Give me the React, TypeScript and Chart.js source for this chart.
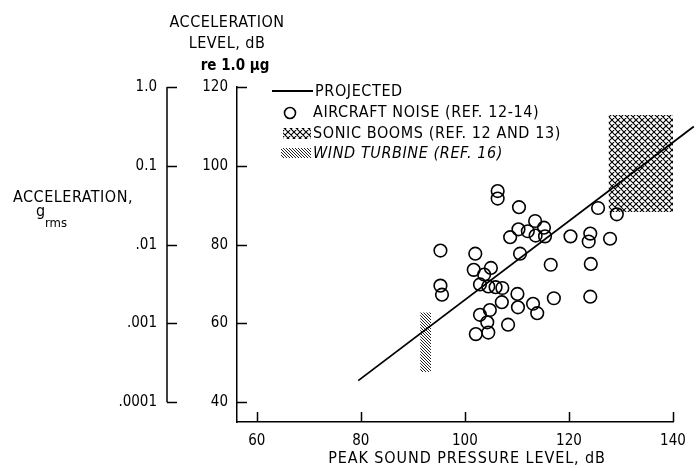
import React, { useEffect, useRef } from 'react';
import { Chart, registerables } from 'chart.js';

Chart.register(...registerables);

// ---- data ----
const aircraftX = [106.3, 106.3, 110.4, 113.5, 110.3, 112.1, 115.2, 108.7, 113.6, 115.4, 120.3, 124.1, 123.8, 125.6, 129.2, 127.9, 95.3, 102.0, 110.6, 116.5, 124.2, 101.7, 105.0, 103.7, 102.9, 104.5, 105.9, 107.2, 95.3, 95.6, 110.1, 107.1, 117.1, 124.1, 110.2, 113.1, 113.9, 104.8, 102.9, 104.3, 108.3, 102.1, 104.5];
const aircraftY = [93.6, 91.7, 89.5, 86.0, 83.9, 83.4, 84.3, 81.9, 82.3, 82.1, 82.1, 82.8, 80.8, 89.3, 87.7, 81.5, 78.5, 77.7, 77.7, 74.9, 75.1, 73.6, 74.1, 72.4, 69.9, 69.4, 69.2, 69.0, 69.6, 67.3, 67.5, 65.4, 66.4, 66.8, 64.1, 65.0, 62.6, 63.4, 62.2, 60.3, 59.7, 57.3, 57.7];
const projectedX = [79.5, 144];
const projectedY = [45.5, 110];
const sonicX = [127.6, 140];
const sonicY = [88.3, 112.9];
const windX = [91.4, 93.5];
const windY = [47.7, 62.8];

const xTicks = [60, 80, 100, 120, 140];
const yTicks = [40, 60, 80, 100, 120];
const accelLabels = ['.0001', '.001', '.01', '0.1', '1.0'];
const legendLabels = ['PROJECTED', 'AIRCRAFT NOISE (REF. 12-14)', 'SONIC BOOMS (REF. 12 AND 13)', 'WIND TURBINE (REF. 16)'];
const xTitle = 'PEAK SOUND PRESSURE LEVEL, dB';
const yTitle = ['ACCELERATION', 'LEVEL, dB', 're 1.0 \u00b5g'];
const accTitle = ['ACCELERATION,', 'g', 'rms'];

const FONT = '"Liberation Sans Narrow", "DejaVu Sans Condensed", "Liberation Sans", sans-serif';

function makeCross(ctx: CanvasRenderingContext2D) {
  const s = 6;
  const c = document.createElement('canvas');
  c.width = s; c.height = s;
  const g = c.getContext('2d')!;
  g.strokeStyle = '#000';
  g.lineWidth = 1.1;
  g.beginPath();
  for (const k of [-s, 0, s]) {
    g.moveTo(k, 0); g.lineTo(k + s, s);
    g.moveTo(k + s, 0); g.lineTo(k, s);
  }
  g.stroke();
  return ctx.createPattern(c, 'repeat')!;
}

function makeDiag(ctx: CanvasRenderingContext2D) {
  const s = 3;
  const c = document.createElement('canvas');
  c.width = s; c.height = s;
  const g = c.getContext('2d')!;
  g.strokeStyle = '#222';
  g.lineWidth = 1;
  g.beginPath();
  for (const k of [-s, 0, s]) {
    g.moveTo(k, 0); g.lineTo(k + s, s);
  }
  g.stroke();
  return ctx.createPattern(c, 'repeat')!;
}

export default function App() {
  const ref = useRef<HTMLCanvasElement | null>(null);

  useEffect(() => {
    document.body.style.margin = '0';
    const canvas = ref.current!;
    const ctx = canvas.getContext('2d')!;
    const cross = makeCross(ctx);
    const diag = makeDiag(ctx);

    const overlay = {
      id: 'overlay',
      afterDraw(chart: any) {
        const c = chart.ctx as any;
        const xs = chart.scales.x;
        const ys = chart.scales.y;
        const area = chart.chartArea;
        c.save();
        c.strokeStyle = '#000';
        c.fillStyle = '#000';
        c.lineWidth = 1.5;
        // inward ticks on y
        c.beginPath();
        for (const v of yTicks) {
          const py = Math.round(ys.getPixelForValue(v)) + 0.5;
          c.moveTo(area.left, py); c.lineTo(area.left + 10, py);
        }
        // inward ticks on x
        for (const v of xTicks) {
          const px = Math.round(xs.getPixelForValue(v)) + 0.5;
          c.moveTo(px, area.bottom); c.lineTo(px, area.bottom - 10);
        }
        // acceleration (g) axis
        const ax = 167;
        c.moveTo(ax, ys.getPixelForValue(yTicks[yTicks.length - 1]));
        c.lineTo(ax, ys.getPixelForValue(yTicks[0]));
        for (const v of yTicks) {
          const py = Math.round(ys.getPixelForValue(v)) + 0.5;
          c.moveTo(ax, py); c.lineTo(ax + 10, py);
        }
        c.stroke();

        // titles
        c.textBaseline = 'middle';
        c.textAlign = 'center';
        c.letterSpacing = '0.5px';
        c.font = `16px ${FONT}`;
        c.fillText(yTitle[0], 227, 23);
        c.fillText(yTitle[1], 227, 44);
        c.font = `bold 15px ${FONT}`;
        c.letterSpacing = '0px';
        c.fillText(yTitle[2], 235, 66);
        c.letterSpacing = '0.9px';
        c.font = `16px ${FONT}`;
        c.fillText(xTitle, 467, 459);
        c.textAlign = 'left';
        c.letterSpacing = '0.5px';
        c.fillText(accTitle[0], 13, 198);
        c.letterSpacing = '0px';
        c.textBaseline = 'alphabetic';
        c.font = `16px ${FONT}`;
        c.fillText(accTitle[1], 36, 216);
        c.font = `13px ${FONT}`;
        c.fillText(accTitle[2], 45, 227);

        // legend
        c.textBaseline = 'middle';
        c.font = `16px ${FONT}`;
        c.letterSpacing = '0.6px';
        c.lineWidth = 1.8;
        c.beginPath(); c.moveTo(272, 91); c.lineTo(313, 91); c.stroke();
        c.fillText(legendLabels[0], 315, 92);
        c.lineWidth = 1.6;
        c.beginPath(); c.arc(290, 113, 5.5, 0, Math.PI * 2); c.stroke();
        c.fillText(legendLabels[1], 313, 113);
        c.fillStyle = cross;
        c.fillRect(283, 128, 28, 11);
        c.fillStyle = '#000';
        c.fillText(legendLabels[2], 313, 134);
        c.fillStyle = diag;
        c.fillRect(281, 148, 30, 10);
        c.fillStyle = '#000';
        c.font = `italic 16px ${FONT}`;
        c.fillText(legendLabels[3], 313, 154);
        c.letterSpacing = '0px';
        c.restore();
      },
    };

    const tickFont = { family: FONT, size: 15 };

    const chart = new Chart(ctx, {
      type: 'line',
      data: {
        datasets: [
          {
            label: legendLabels[0],
            data: projectedX.map((x, i) => ({ x, y: projectedY[i] })),
            borderColor: '#000',
            borderWidth: 1.8,
            pointRadius: 0,
            fill: false,
            clip: false,
            order: 1,
          } as any,
          {
            label: legendLabels[1],
            data: aircraftX.map((x, i) => ({ x, y: aircraftY[i] })),
            showLine: false,
            pointStyle: 'circle',
            pointRadius: 6.3,
            pointBorderWidth: 1.6,
            pointBorderColor: '#000',
            pointBackgroundColor: 'rgba(0,0,0,0)',
            borderColor: '#000',
            order: 2,
          },
          {
            label: legendLabels[2],
            data: sonicX.map((x) => ({ x, y: sonicY[1] })),
            borderColor: 'rgba(0,0,0,0)',
            borderWidth: 0,
            pointRadius: 0,
            backgroundColor: cross,
            fill: { value: sonicY[0] },
            order: 3,
          },
          {
            label: legendLabels[3],
            data: windX.map((x) => ({ x, y: windY[1] })),
            borderColor: 'rgba(0,0,0,0)',
            borderWidth: 0,
            pointRadius: 0,
            backgroundColor: diag,
            fill: { value: windY[0] },
            order: 3,
          },
        ],
      },
      options: {
        animation: false,
        responsive: false,
        events: [],
        layout: { padding: { left: 0, right: 27, top: 87, bottom: 0 } },
        plugins: { legend: { display: false }, tooltip: { enabled: false } },
        scales: {
          x: {
            type: 'linear',
            min: 56.2,
            max: 140,
            afterBuildTicks: (s: any) => { s.ticks = xTicks.map((v) => ({ value: v })); },
            afterFit: (s: any) => { s.height = 46; },
            grid: { display: false, drawTicks: false },
            border: { display: true, color: '#000', width: 1.5 },
            ticks: { padding: 10, color: '#000', font: tickFont, maxRotation: 0 },
          },
          y: {
            type: 'linear',
            position: 'left',
            weight: 0,
            min: 35,
            max: 120,
            afterBuildTicks: (s: any) => { s.ticks = yTicks.map((v) => ({ value: v })); },
            afterFit: (s: any) => { s.width = 70; },
            grid: { display: false, drawTicks: false },
            border: { display: true, color: '#000', width: 1.5 },
            ticks: { padding: 9, color: '#000', font: tickFont },
          },
          acc: {
            type: 'linear',
            position: 'left',
            weight: 1,
            min: 35,
            max: 120,
            afterBuildTicks: (s: any) => { s.ticks = yTicks.map((v) => ({ value: v })); },
            afterFit: (s: any) => { s.width = 167; },
            grid: { display: false, drawTicks: false },
            border: { display: false },
            ticks: {
              padding: 10,
              color: '#000',
              font: tickFont,
              callback: (v: any) => accelLabels[yTicks.indexOf(Number(v))] ?? '',
            },
          },
        },
      } as any,
      plugins: [overlay],
    });
    return () => chart.destroy();
  }, []);

  return (
    <div style={{ width: 700, height: 468 }}>
      <canvas ref={ref} width={700} height={468} style={{ display: 'block' }} />
    </div>
  );
}
